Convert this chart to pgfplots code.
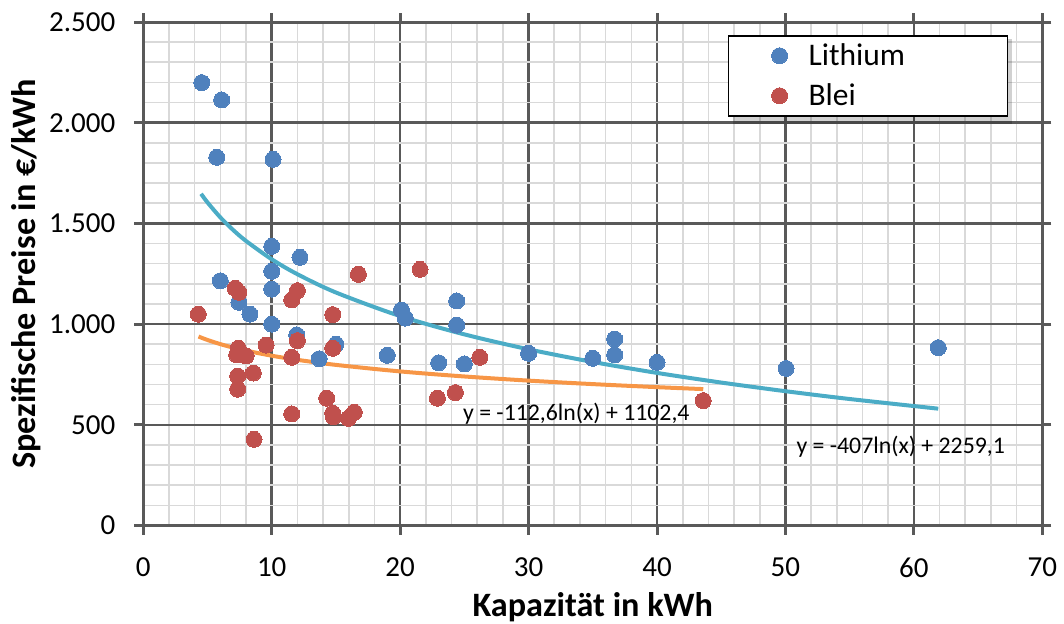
\documentclass[border=0pt]{standalone}
\usepackage{pgfplots}
\pgfplotsset{compat=1.18}
\usepackage{fontspec}
\setmainfont{Carlito}

\definecolor{liblue}{HTML}{4F81BD}
\definecolor{bleired}{HTML}{C0504D}
\definecolor{trendli}{HTML}{4BACC6}
\definecolor{trendpb}{HTML}{F79646}
\definecolor{majgrid}{HTML}{595959}
\definecolor{mingrid}{HTML}{D9D9D9}

% Lithium systems: capacity (kWh) and specific price (EUR/kWh)
\pgfplotstableread{
x y
4.55 2199
6.1 2113
5.72 1828
10.1 1818
10 1386
12.2 1332
6.0 1215
10 1262
10 1174
7.45 1108
8.3 1050
10 1000
11.95 946
15.0 900
13.7 828
19.0 845
20.1 1070
20.4 1030
24.4 1115
24.4 995
23 808
25 802
30 855
35 830
36.7 926
36.7 847
40 810
50.05 780
61.9 883
}\lithium

% Lead-acid systems
\pgfplotstableread{
x y
4.28 1049
7.15 1178
7.45 1158
12 1166
11.56 1120
16.75 1247
21.55 1272
14.75 1047
12 918
9.56 896
7.4 880
7.27 847
8.0 842
11.56 835
14.75 880
7.35 742
8.57 757
7.35 677
14.28 632
11.56 554
14.75 557
14.8 540
15.97 532
16.43 562
8.62 428
22.9 632
24.3 660
26.2 835
43.6 620
}\blei

% Logarithmic trend, Lithium: y = -407 ln(x) + 2259.1
\pgfplotstableread{
x y
4.5 1646.9
5 1604.1
6 1529.8
7 1467.1
8 1412.8
10 1321.9
12 1247.7
15 1156.9
20 1039.8
25 949.0
30 874.8
35 812.1
40 757.7
45 709.8
50 666.9
55 628.1
61.9 580.1
}\trendli

% Logarithmic trend, Blei: y = -112.6 ln(x) + 1102.4
\pgfplotstableread{
x y
4.3 938.2
5 921.2
6 900.6
7 883.3
8 868.3
10 843.1
12 822.6
15 797.5
20 765.1
25 740.0
30 719.4
35 702.1
40 687.0
43.6 677.3
}\trendpb

\begin{document}
\begin{tikzpicture}
\begin{axis}[
  at={(0,0)}, anchor=south west,
  scale only axis,
  width=449.5pt, height=251.75pt,
  xmin=0, xmax=70, ymin=0, ymax=2500,
  xtick={0,10,...,70},
  ytick={0,500,...,2500},
  minor x tick num=4,
  minor y tick num=4,
  grid=both,
  major grid style={majgrid, line width=1.25pt},
  minor grid style={mingrid, line width=0.8pt},
  axis line style={majgrid, line width=1.5pt},
  tick align=outside,
  major tick length=4.5pt,
  minor tick length=0pt,
  tick style={majgrid, line width=1.5pt},
  tick label style={font=\fontsize{14.5}{17}\selectfont},
  xticklabel style={yshift=-8pt},
  yticklabel style={xshift=-6pt, /pgf/number format/1000 sep={.}},
  /pgf/number format/assume math mode=true,
  xlabel={Kapazität in kWh},
  ylabel={Spezifische Preise in €/kWh},
  label style={font=\bfseries\fontsize{17.1}{20}\selectfont},
  xlabel style={at={(axis description cs:0.5,0)}, anchor=center, yshift=-40.75pt},
  ylabel style={at={(axis description cs:0,0.5)}, anchor=center, yshift=58.6pt},
  legend cell align=left,
  legend style={
    at={(rel axis cs:0.9622,0.9742)}, anchor=north east,
    draw=black, line width=0.75pt, fill=white,
    inner xsep=0pt, inner ysep=0pt,
    column sep=0pt, row sep=0pt,
    nodes={inner sep=0pt},
    font=\fontsize{15.75}{18}\selectfont,
  },
  legend image code/.code={
    \path[draw=none, fill=none] (-25.5pt,-10pt) rectangle (14.5pt,10pt);
    \draw[#1] plot coordinates {(0pt,0pt)};
  },
]
% soft shadow behind the legend box
\fill[black, opacity=0.18] (rel axis cs:0.6560,0.7976) rectangle (rel axis cs:0.9667,0.9663);
\addplot[only marks, mark=*, mark size=4pt, mark options={fill=liblue, draw=liblue, line width=0pt}]
  table[x=x, y=y] {\lithium};
\addlegendentry{\makebox[99.5pt][l]{Lithium}}
\addplot[only marks, mark=*, mark size=4pt, mark options={fill=bleired, draw=bleired, line width=0pt}]
  table[x=x, y=y] {\blei};
\addlegendentry{\makebox[99.5pt][l]{Blei}}
\addplot[trendli, line width=2pt, smooth, no marks, forget plot] table[x=x, y=y] {\trendli};
\addplot[trendpb, line width=2pt, smooth, no marks, forget plot] table[x=x, y=y] {\trendpb};
\node[anchor=west, inner sep=0pt, font=\fontsize{11.9}{14}\selectfont] at (axis cs:24.87,553.6) {y = -112,6ln(x) + 1102,4};
\node[anchor=west, inner sep=0pt, font=\fontsize{11.9}{14}\selectfont] at (axis cs:50.83,391) {y = -407ln(x) + 2259,1};
\end{axis}
\pgfresetboundingbox
\path[use as bounding box] (-71.65pt,-48.75pt) rectangle (460.35pt,262.75pt);
\end{tikzpicture}
\end{document}
